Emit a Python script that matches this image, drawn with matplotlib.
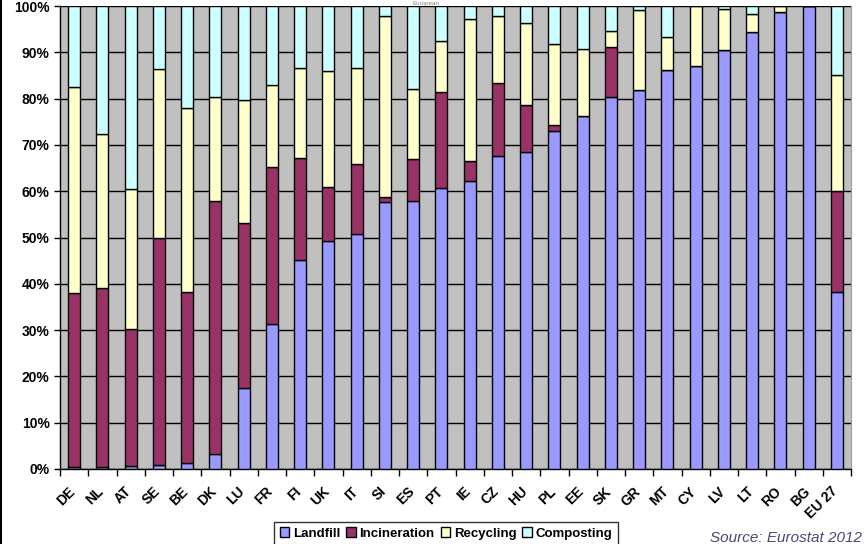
import matplotlib
matplotlib.use("Agg")
import matplotlib.pyplot as plt
import matplotlib.transforms as mtransforms
import numpy as np
from matplotlib.ticker import FuncFormatter, MultipleLocator

countries = ["DE", "NL", "AT", "SE", "BE", "DK", "LU", "FR", "FI", "UK", "IT", "SI", "ES", "PT",
             "IE", "CZ", "HU", "PL", "EE", "SK", "GR", "MT", "CY", "LV", "LT", "RO", "BG", "EU 27"]

landfill = [0.4, 0.4, 0.6, 0.8, 1.2, 3.2, 17.6, 31.3, 45.1, 49.2, 50.7, 57.7, 57.8, 60.6,
            62.1, 67.7, 68.4, 73.1, 76.3, 80.4, 81.9, 86.2, 87.0, 90.4, 94.3, 98.6, 100.0, 38.2]
incineration = [37.7, 38.8, 29.7, 49.0, 37.0, 54.6, 35.5, 33.9, 22.0, 11.6, 15.2, 1.0, 9.1, 20.8,
                 4.4, 15.6, 10.2, 1.1, 0.0, 10.7, 0.0, 0.0, 0.0, 0.0, 0.0, 0.0, 0.0, 21.9]
recycling = [44.3, 33.1, 30.1, 36.5, 39.7, 22.6, 26.6, 17.7, 19.6, 25.1, 20.8, 39.1, 15.1, 11.0,
             30.6, 14.5, 17.7, 17.7, 14.5, 3.4, 17.2, 7.2, 13.0, 9.0, 3.9, 1.4, 0.0, 25.1]
composting = [17.6, 27.7, 39.6, 13.7, 22.1, 19.6, 20.3, 17.1, 13.3, 14.1, 13.3, 2.2, 18.0, 7.6,
              2.9, 2.2, 3.7, 8.1, 9.2, 5.5, 0.9, 6.6, 0.0, 0.6, 1.8, 0.0, 0.0, 14.8]

series_names = ["Landfill", "Incineration", "Recycling", "Composting"]
series_vals = [landfill, incineration, recycling, composting]
colors = ["#9999FF", "#993366", "#FFFFCC", "#CCFFFF"]

W, H = 868, 544
fig = plt.figure(figsize=(W / 100, H / 100), dpi=100)
fig.patch.set_facecolor("white")
ax = fig.add_axes([60 / W, 1 - 469 / H, (851 - 60) / W, (469 - 6) / H])
ax.set_facecolor("#C0C0C0")

x = np.arange(len(countries))
bottom = np.zeros(len(countries))
handles = []
for name, vals, c in zip(series_names, series_vals, colors):
    v = np.array(vals)
    b = ax.bar(x, v, bottom=bottom, width=0.43, color=c, edgecolor="black", linewidth=1.0,
               label=name, zorder=3)
    handles.append(b)
    bottom += v

ax.set_xlim(-0.5, len(countries) - 0.5)
ax.set_ylim(0, 100)
ax.yaxis.set_major_locator(MultipleLocator(10))
ax.yaxis.set_major_formatter(FuncFormatter(lambda v, p: f"{int(round(v))}%"))
ax.grid(axis="y", color="black", linewidth=1.0, zorder=1)
ax.set_axisbelow(True)

ax.set_xticks(x)
ax.set_xticklabels(countries, rotation=45, ha="right", rotation_mode="anchor",
                   fontsize=10, fontweight="bold", family="Liberation Sans")
ax.tick_params(axis="x", length=0, pad=11)
shift = mtransforms.ScaledTranslation(-6 / 100, 0, fig.dpi_scale_trans)
for lbl in ax.get_xticklabels():
    lbl.set_transform(lbl.get_transform() + shift)
ax.set_xticks(np.arange(len(countries) + 1) - 0.5, minor=True)
ax.tick_params(axis="x", which="minor", length=5, width=1, color="black", direction="out")
for lbl in ax.get_yticklabels():
    lbl.set_fontsize(10)
    lbl.set_fontweight("bold")
    lbl.set_family("Liberation Sans")
ax.tick_params(axis="y", length=4, width=1, direction="out")

ax.spines["top"].set_visible(False)
ax.spines["left"].set_linewidth(1.0)
ax.spines["bottom"].set_linewidth(1.0)
ax.spines["right"].set_color("#999999")

leg = fig.legend(handles=handles, labels=series_names, loc="upper center", ncol=4,
                 bbox_to_anchor=(446 / W, 1 - 522 / H), frameon=True, fancybox=False,
                 edgecolor="black", prop={"family": "Liberation Sans", "weight": "bold", "size": 9.5},
                 handlelength=0.7, handleheight=0.7, handletextpad=0.3, columnspacing=0.45,
                 borderpad=0.4, borderaxespad=0)
leg.get_frame().set_linewidth(1.0)

fig.text(862 / W, 1 - 538 / H, "Source: Eurostat 2012", ha="right", va="center",
         fontsize=11, style="italic", color="#4A4A70", family="Liberation Sans")
fig.text(426 / W, 1 - 0.5 / H, "European", ha="center", va="top", fontsize=4.5,
         color="#808080", family="Liberation Sans")

fig.add_artist(plt.Line2D([1 / W, 1 / W], [0, 1], color="black", linewidth=1.5,
                          transform=fig.transFigure))

fig.savefig("out.png", dpi=100)
